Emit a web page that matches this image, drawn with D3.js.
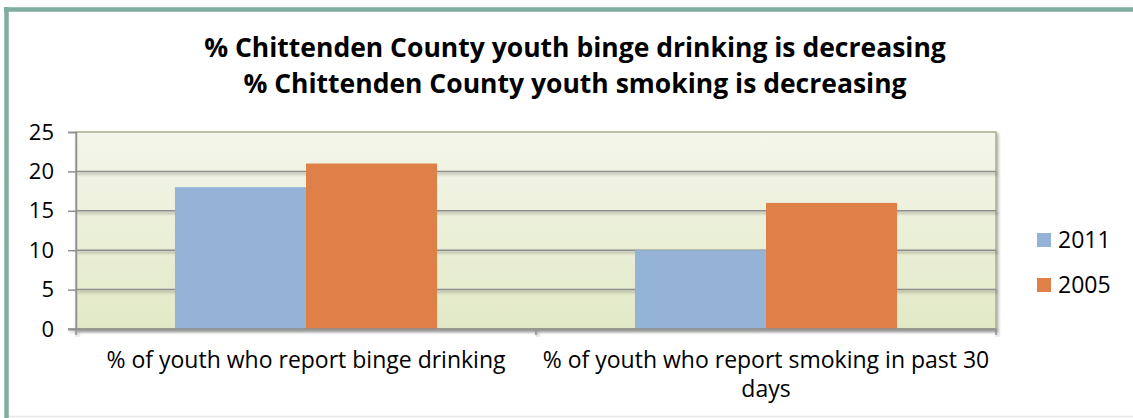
<!DOCTYPE html>
<html><head><meta charset="utf-8">
<script src="https://cdn.jsdelivr.net/npm/d3@7"></script>
<style>html,body{margin:0;padding:0;background:#fff;}svg{display:block;}</style>
</head><body>
<script>
const categories = ["% of youth who report binge drinking", "% of youth who report smoking in past 30 days"];
const seriesNames = ["2011", "2005"];
const values2011 = [18, 10];
const values2005 = [21, 16];
const yTicks = [0, 5, 10, 15, 20, 25];
const titleLines = ["% Chittenden County youth binge drinking is decreasing", "% Chittenden County youth smoking is decreasing"];
const colors = ["#95b3d6", "#df8049"];

const W = 1133, H = 418;
const plot = {left: 76, right: 996, top: 132, bottom: 329};
const svg = d3.select("body").append("svg").attr("width", W).attr("height", H);
const defs = svg.append("defs");
const grad = defs.append("linearGradient").attr("id", "bg").attr("x1", 0).attr("x2", 0).attr("y1", 0).attr("y2", 1);
grad.append("stop").attr("offset", "0%").attr("stop-color", "#f4f6eb");
grad.append("stop").attr("offset", "100%").attr("stop-color", "#e2e9c6");
const sh = defs.append("filter").attr("id", "sh").attr("x", "-5%").attr("y", "-20%").attr("width", "110%").attr("height", "150%");
sh.append("feDropShadow").attr("dx", 1.5).attr("dy", 2).attr("stdDeviation", 1.5).attr("flood-color", "#000").attr("flood-opacity", 0.35);

// outer frame
svg.append("line").attr("x1", 6.5).attr("x2", 6.5).attr("y1", 7).attr("y2", H).attr("stroke", "#7fad9f").attr("stroke-width", 4.5);
svg.append("line").attr("x1", 4).attr("x2", W).attr("y1", 9.5).attr("y2", 9.5).attr("stroke", "#7fad9f").attr("stroke-width", 4.5);
svg.append("line").attr("x1", 9).attr("x2", W).attr("y1", 416.5).attr("y2", 416.5).attr("stroke", "#e6e6e6").attr("stroke-width", 1.5);

// title
const title = svg.append("text").attr("text-anchor", "middle").attr("font-family", "'Open Sans', sans-serif").attr("font-weight", "bold").attr("font-size", 26.5).attr("fill", "#000");
titleLines.forEach((t, i) => title.append("tspan").attr("x", 575).attr("y", 57 + i * 36).text(t));

const y = d3.scaleLinear().domain([0, 25]).range([plot.bottom, plot.top]);
const x0 = d3.scaleBand().domain(categories).range([plot.left, plot.right]).padding(0);
const x1 = d3.scaleBand().domain(seriesNames).range([0, x0.bandwidth()]).paddingInner(0).paddingOuter(0.755);

// plot background with shadow
svg.append("rect").attr("x", plot.left).attr("y", plot.top).attr("width", plot.right - plot.left).attr("height", plot.bottom - plot.top)
  .attr("fill", "url(#bg)").attr("stroke", "#a8b08a").attr("stroke-width", 1.5).attr("filter", "url(#sh)");

// gridlines
const grid = svg.append("g").attr("filter", "url(#sh)");
grid.selectAll("line").data(yTicks.filter(d => d > 0 && d < 25)).join("line")
  .attr("x1", plot.left).attr("x2", plot.right).attr("y1", d => y(d)).attr("y2", d => y(d))
  .attr("stroke", "#8f8f8f").attr("stroke-width", 1.5);

// bars
const data = categories.map((c, i) => ({cat: c, vals: [values2011[i], values2005[i]]}));
const g = svg.append("g");
data.forEach(d => {
  g.selectAll(null).data(seriesNames.map((s, j) => ({s, v: d.vals[j], j}))).join("rect")
    .attr("x", e => x0(d.cat) + x1(e.s)).attr("width", x1.bandwidth())
    .attr("y", e => y(e.v)).attr("height", e => y(0) - y(e.v)).attr("fill", e => colors[e.j]);
});

// y axis
const yAxis = svg.append("g").attr("transform", `translate(${plot.left},0)`)
  .call(d3.axisLeft(y).tickValues(yTicks).tickSize(8).tickPadding(14));
yAxis.select(".domain").attr("stroke", "#8f8f8f").attr("stroke-width", 1.5);
yAxis.selectAll(".tick line").attr("stroke", "#8f8f8f").attr("stroke-width", 1.5);
yAxis.selectAll(".tick text").attr("font-family", "'Open Sans', sans-serif").attr("font-size", 22).attr("fill", "#000");

// x axis
const xAxis = svg.append("g").attr("transform", `translate(0,${plot.bottom})`).attr("filter", "url(#sh)");
xAxis.append("line").attr("x1", plot.left - 8).attr("x2", plot.right).attr("y1", 0).attr("y2", 0).attr("stroke", "#8f8f8f").attr("stroke-width", 1.5);
const xt = [plot.left, ...categories.map(c => x0(c) + x0.bandwidth())];
xAxis.selectAll(".xt").data(xt).join("line").attr("x1", d => d).attr("x2", d => d).attr("y1", 0).attr("y2", 6).attr("stroke", "#8f8f8f").attr("stroke-width", 1.5);

const labelLines = [["% of youth who report binge drinking"], ["% of youth who report smoking in past 30", "days"]];
categories.forEach((c, i) => {
  const t = svg.append("text").attr("text-anchor", "middle").attr("font-family", "'Open Sans', sans-serif").attr("font-size", 23).attr("fill", "#000");
  labelLines[i].forEach((l, k) => t.append("tspan").attr("x", x0(c) + x0.bandwidth() / 2).attr("y", 368 + k * 29).text(l));
});

// legend
const leg = svg.append("g");
seriesNames.forEach((s, i) => {
  leg.append("rect").attr("x", 1037).attr("y", 233 + i * 45).attr("width", 14).attr("height", 14).attr("fill", colors[i]);
  leg.append("text").attr("x", 1058).attr("y", 248 + i * 45).attr("font-family", "'Open Sans', sans-serif").attr("font-size", 23).attr("fill", "#000").text(s);
});
</script>
</body></html>
